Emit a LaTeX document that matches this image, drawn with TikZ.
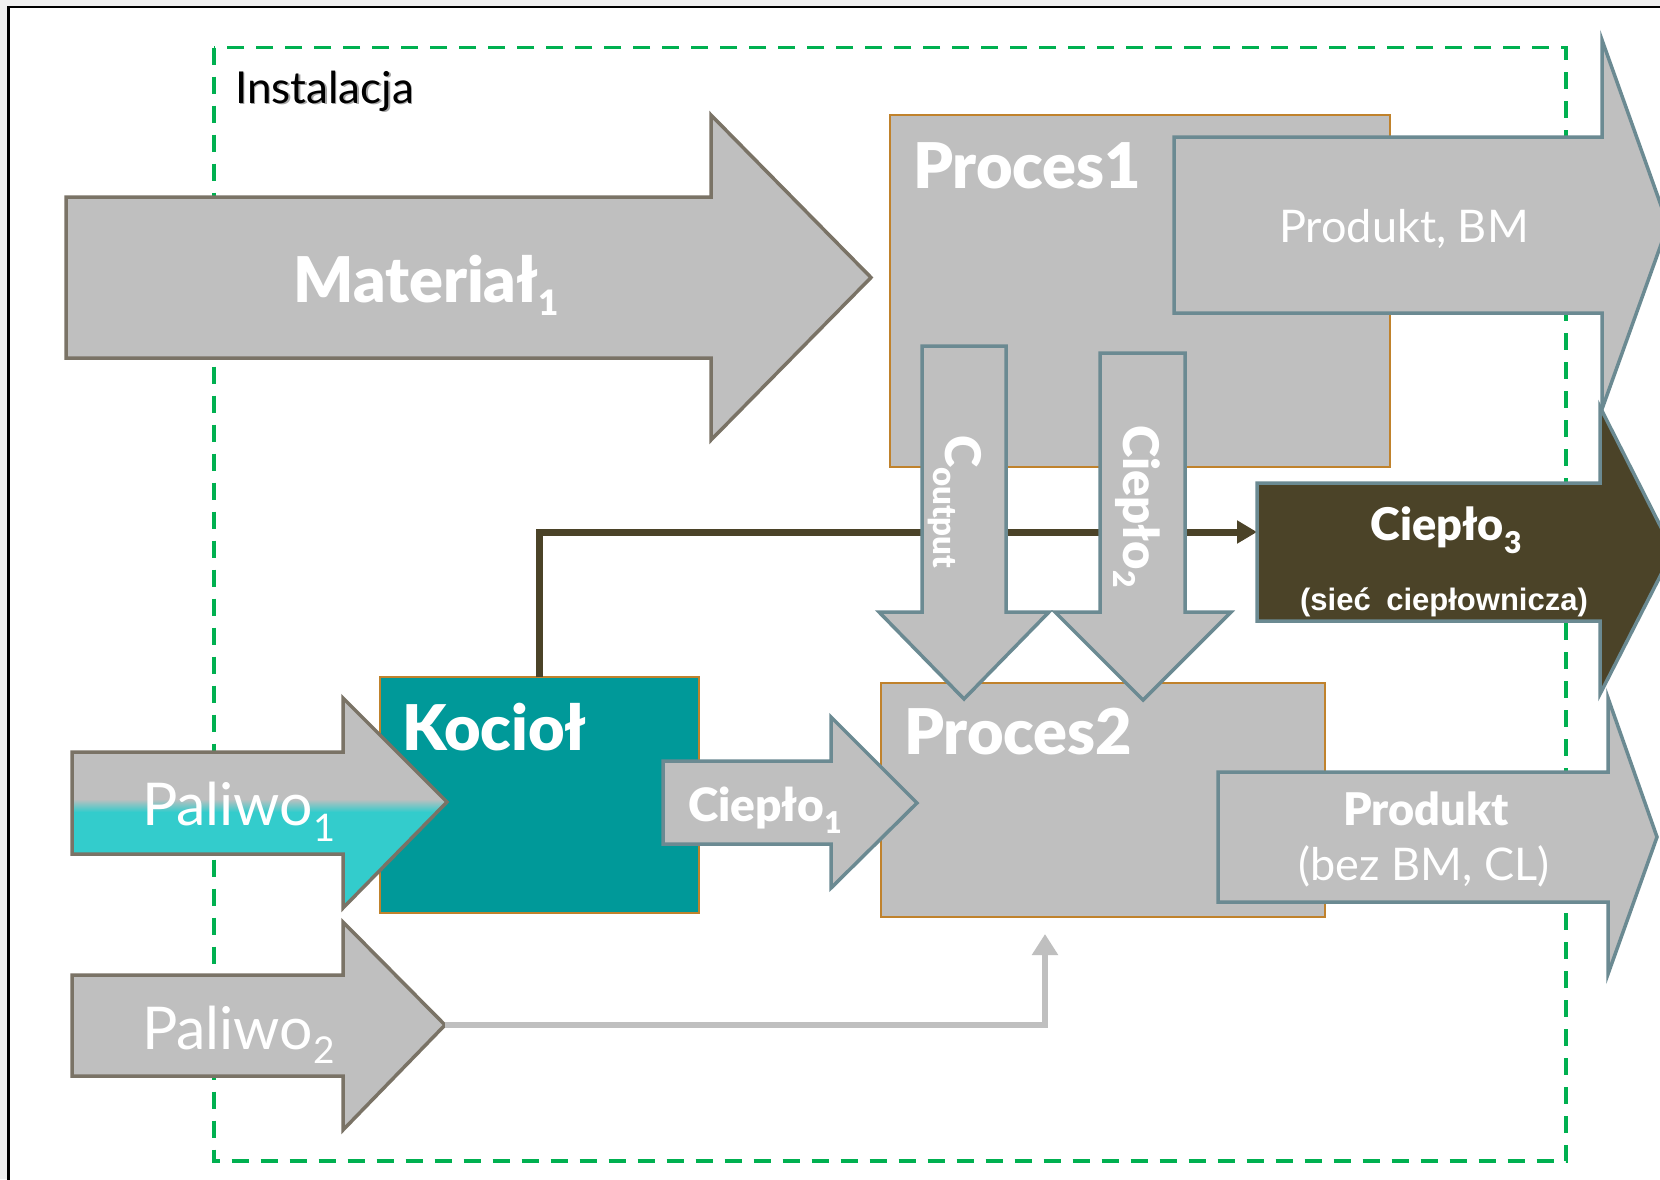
\documentclass[tikz,border=0pt]{standalone}
\usepackage{fontspec}
\setmainfont{Lato}[BoldFont={Lato Black}]
\newfontfamily\arialfont{Liberation Sans}
\usetikzlibrary{arrows.meta}
\definecolor{fillgray}{HTML}{BFBFBF}
\definecolor{brstroke}{HTML}{7A7366}
\definecolor{stlstroke}{HTML}{6B8A92}
\definecolor{orstroke}{HTML}{C0822C}
\definecolor{kotteal}{HTML}{009999}
\definecolor{cyanfill}{HTML}{33CCCC}
\definecolor{darkolive}{HTML}{4B4328}
\definecolor{instgreen}{HTML}{00B050}
\definecolor{bggray}{HTML}{F0F0F0}
\newcommand\subx[3]{\raisebox{-#2pt}{\fontsize{#1}{#1}\selectfont #3}}
\newcommand\fsz[1]{\fontsize{#1}{#1}\selectfont}
\begin{document}
\begin{tikzpicture}[x=1pt,y=-1pt,
  brarrow/.style={fill=fillgray, draw=brstroke, line width=3.5pt, line join=miter},
  stlarrow/.style={fill=fillgray, draw=stlstroke, line width=3.5pt, line join=miter},
  procbox/.style={fill=fillgray, draw=orstroke, line width=2pt, inner sep=0pt, outer sep=0pt},
  wt/.style={text=white, inner sep=0pt, outer sep=0pt},
  darkline/.style={draw=darkolive, line width=7pt, -{Triangle[length=20pt,width=22pt]}},
  lightline/.style={draw=fillgray, line width=6.5pt, -{Triangle[length=21pt,width=25pt]}}]
\useasboundingbox (0,0) rectangle (1660,1179);
\clip (0,0) rectangle (1660,1179);
% background and frame
\fill[bggray] (0,0) rectangle (1660,1179);
\draw[fill=white, draw=black, line width=2.5pt] (8.5,7) rectangle (1720,1260);
% installation boundary
\draw[instgreen, line width=3.5pt, dash pattern=on 17pt off 12pt] (214,47.5) rectangle (1566,1161);
\node[anchor=base west, inner sep=0pt, text=black!35] at (236.5,104.5) {\fsz{44}Instalacja};
\node[anchor=base west, inner sep=0pt, text=black] (tinst) at (235,103) {\fsz{44}Instalacja};
% Proces1
\node[procbox, minimum width=500pt, minimum height=352pt] (proc1) at (1140,291) {};
% Material arrow
\draw[brarrow] (66,197) -- (711,197) -- (711,115) -- (871,277.5) -- (711,440) -- (711,358) -- (66,358) -- cycle;
% Produkt, BM arrow
\draw[stlarrow] (1174,137) -- (1602,137) -- (1602,40) -- (1668,225) -- (1602,409) -- (1602,313) -- (1174,313) -- cycle;
% Proces2 and Kociol
\node[procbox, minimum width=444pt, minimum height=234pt] (proc2) at (1103,800) {};
\node[procbox, fill=kotteal, minimum width=319pt, minimum height=236pt] (kociol) at (539.5,795) {};
% connectors coordinates
\coordinate (c3in) at (1257,532);
\coordinate (pal2tip) at (445,1025);
\coordinate (p2in) at (1045,934);
% dark connector Kociol -> Cieplo3
\draw[darkline] (kociol.north) |- (c3in);
% down arrows
\draw[stlarrow] (922,346) -- (1006,346) -- (1006,612) -- (1049,612) -- (964,699) -- (879,612) -- (922,612) -- cycle;
\draw[stlarrow] (1100,353) -- (1185,353) -- (1185,612) -- (1231,612) -- (1143,700) -- (1055,612) -- (1100,612) -- cycle;
% Cieplo3 arrow
\draw[stlarrow, fill=darkolive] (1257,483) -- (1600,483) -- (1600,407) -- (1673,551) -- (1600,694) -- (1600,621) -- (1257,621) -- cycle;
% Produkt arrow
\draw[stlarrow] (1218,772) -- (1608,772) -- (1608,698) -- (1657,837) -- (1608,974) -- (1608,902) -- (1218,902) -- cycle;
% Cieplo1 arrow
\draw[stlarrow] (663,761) -- (831,761) -- (831,717) -- (917,803) -- (831,888) -- (831,844) -- (663,844) -- cycle;
% Paliwo1 arrow with cyan lower part
\begin{scope}
  \clip (72,752) -- (343,752) -- (343,698) -- (447,802) -- (343,908) -- (343,854) -- (72,854) -- cycle;
  \fill[fillgray] (60,690) rectangle (460,800);
  \shade[top color=fillgray, bottom color=cyanfill] (60,799) rectangle (460,812);
  \fill[cyanfill] (60,811.5) rectangle (460,920);
\end{scope}
\draw[draw=brstroke, line width=3.5pt, line join=miter] (72,752) -- (343,752) -- (343,698) -- (447,802) -- (343,908) -- (343,854) -- (72,854) -- cycle;
% Paliwo2 arrow
\draw[brarrow] (72,975) -- (343,975) -- (343,922) -- (445,1025) -- (343,1130) -- (343,1076) -- (72,1076) -- cycle;
% light connector Paliwo2 -> Proces2
\draw[lightline] (pal2tip) -| (p2in);
% texts
\node[wt, anchor=base] (tmat) at (426,302) {\fsz{63}\bfseries Materiał\subx{35}{13}{1}};
\node[wt, anchor=base west] (tproc1) at (913,188) {\fsz{63}\bfseries Proces1};
\node[wt, anchor=base] (tprbm) at (1404,242) {\fsz{45}Produkt, BM};
\node[wt, anchor=base west, rotate=-90] (tcout) at (945,435) {\fsz{49}\bfseries C\subx{33}{12}{output}};
\node[wt, anchor=base west, rotate=-90] (tc2) at (1123,425) {\fsz{49}\bfseries Ciepło\subx{30}{10}{2}};
\node[wt, anchor=base] (tc3) at (1446,540) {\fsz{45}\bfseries Ciepło\subx{30}{13}{3}};
\node[wt, anchor=base] (tsiec) at (1444,610) {\arialfont\fsz{31}\bfseries (sieć\hspace{0.5em}ciepłownicza)};
\node[wt, anchor=base west] (tkoc) at (402,750) {\fsz{63}\bfseries Kocioł};
\node[wt, anchor=base west] (tproc2) at (904,754) {\fsz{63}\bfseries Proces2};
\node[wt, anchor=base west] (tpal1) at (142,825) {\fsz{59}Paliwo\subx{38}{16}{1}};
\node[wt, anchor=base west] (tc1) at (688,821) {\fsz{46}\bfseries Ciepło\subx{30}{12}{1}};
\node[wt, anchor=base] (tprod) at (1426,825) {\fsz{45}\bfseries Produkt};
\node[wt, anchor=base] (tbez) at (1424,880) {\fsz{45}(bez BM, CL)};
\node[wt, anchor=base west] (tpal2) at (142,1049) {\fsz{59}Paliwo\subx{37}{14}{2}};
\end{tikzpicture}
\end{document}
